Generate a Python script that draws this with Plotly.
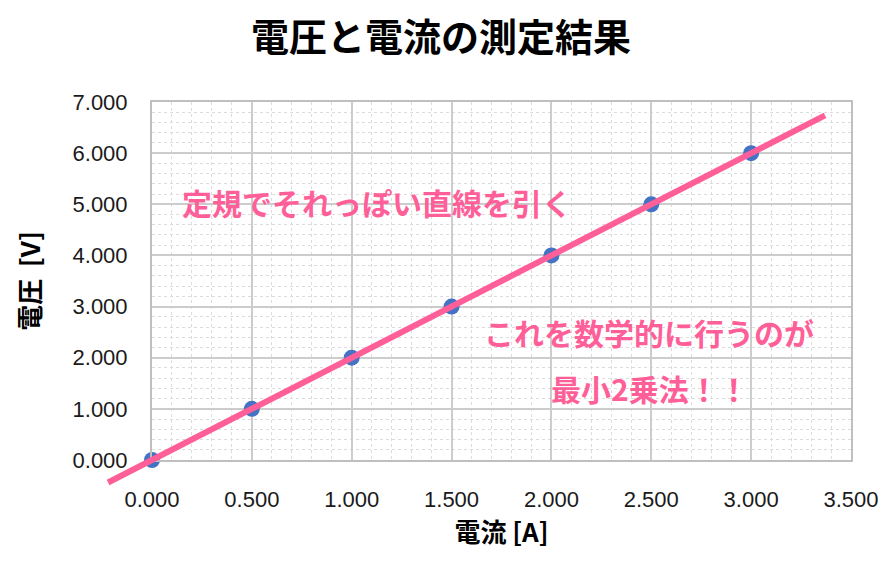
import numpy as np
import plotly.graph_objects as go

# 測定データ
current = [0.0, 0.5, 1.0, 1.5, 2.0, 2.5, 3.0]
voltage = [0.0, 1.0, 2.0, 3.0, 4.0, 5.0, 6.0]
# 直線を引く範囲 (電流)
line_x_range = [-0.22, 3.37]

x_range = [0, 3.5]
y_range = [0, 7]
x_ticks = [0, 0.5, 1.0, 1.5, 2.0, 2.5, 3.0, 3.5]
y_ticks = [0, 1, 2, 3, 4, 5, 6, 7]

PINK = '#ff5f98'
BLUE = '#4472c4'
JP_FONT = 'Noto Sans CJK JP'

W, H = 893, 563
OFF = 7  # ページ余白の分
# プロット領域 (ピクセル)
px_l, px_r, px_t, px_b = 151 - OFF, 850 - OFF, 101 - OFF, 459 - OFF
m_l, m_r, m_t, m_b = 90, 15, 70, 60
paper_w = W - m_l - m_r
paper_h = H - m_t - m_b

dom_x = [(px_l - m_l) / paper_w, (px_r - m_l) / paper_w]
dom_y = [(H - m_b - px_b) / paper_h, (H - m_b - px_t) / paper_h]

# 線をプロット領域外まで描くための補助軸 (同じスケール)
sx = (px_r - px_l) / (x_range[1] - x_range[0])
sy = (px_b - px_t) / (y_range[1] - y_range[0])
x2_range = [x_range[0] - (px_l - m_l) / sx, x_range[1] + (W - m_r - px_r) / sx]
y2_range = [y_range[0] - (H - m_b - px_b) / sy, y_range[1] + (px_t - m_t) / sy]

# 最小2乗法
slope, intercept = np.polyfit(current, voltage, 1)
line_x = np.array(line_x_range)
line_y = slope * line_x + intercept

fig = go.Figure()
fig.add_trace(go.Scatter(
    x=current, y=voltage, mode='markers',
    marker=dict(color=BLUE, size=16), cliponaxis=False,
))
fig.add_trace(go.Scatter(
    x=line_x, y=line_y, mode='lines', xaxis='x2', yaxis='y2',
    line=dict(color=PINK, width=6),
))

fig.update_layout(
    width=W, height=H,
    margin=dict(l=m_l, r=m_r, t=m_t, b=m_b, autoexpand=False),
    paper_bgcolor='white', plot_bgcolor='rgba(0,0,0,0)',
    showlegend=False,
    font=dict(family='Liberation Sans, Noto Sans', color='#1a1a1a'),
    title=dict(text='<b>電圧と電流の測定結果</b>', x=0.485, xanchor='center', y=0.948, yanchor='middle',
               font=dict(family=JP_FONT, size=38, color='black')),
    xaxis=dict(
        domain=dom_x, range=x_range, tickvals=x_ticks, tickformat='.3f', automargin=False,
        showgrid=True, gridcolor='#cccccc', gridwidth=2,
        minor=dict(dtick=0.1, showgrid=True, gridcolor='#dcdcdc', griddash='dot', gridwidth=1),
        showline=True, linecolor='#bfbfbf', linewidth=2, mirror=True,
        zeroline=False, ticks='', tickfont=dict(size=22), ticklabelstandoff=19,
        title=dict(text='<b>電流 [A]</b>', font=dict(family=JP_FONT, size=26, color='black'), standoff=3),
    ),
    yaxis=dict(
        domain=dom_y, range=y_range, tickvals=y_ticks, tickformat='.3f', automargin=False,
        showgrid=True, gridcolor='#cccccc', gridwidth=2,
        minor=dict(dtick=0.2, showgrid=True, gridcolor='#dcdcdc', griddash='dot', gridwidth=1),
        showline=True, linecolor='#bfbfbf', linewidth=2, mirror=True,
        zeroline=False, ticks='', tickfont=dict(size=22), ticklabelstandoff=18,
        title=dict(text='<b>電圧  [V]</b>', font=dict(family=JP_FONT, size=26, color='black'), standoff=24),
    ),
    xaxis2=dict(domain=[0, 1], range=x2_range, anchor='y2', visible=False, fixedrange=True),
    yaxis2=dict(domain=[0, 1], range=y2_range, anchor='x2', visible=False, fixedrange=True),
)

fig.add_annotation(text='<b>定規でそれっぽい直線を引く</b>', x=0.14, y=5.04, xref='x', yref='y',
                   xanchor='left', showarrow=False, font=dict(family=JP_FONT, size=30, color=PINK))
fig.add_annotation(text='<b>これを数学的に行うのが</b>', x=1.65, y=2.51, xref='x', yref='y',
                   xanchor='left', showarrow=False, font=dict(family=JP_FONT, size=30, color=PINK))
fig.add_annotation(text='<b>最小2乗法！！</b>', x=1.99, y=1.40, xref='x', yref='y',
                   xanchor='left', showarrow=False, font=dict(family=JP_FONT, size=30, color=PINK))

fig.write_html('out.html')
